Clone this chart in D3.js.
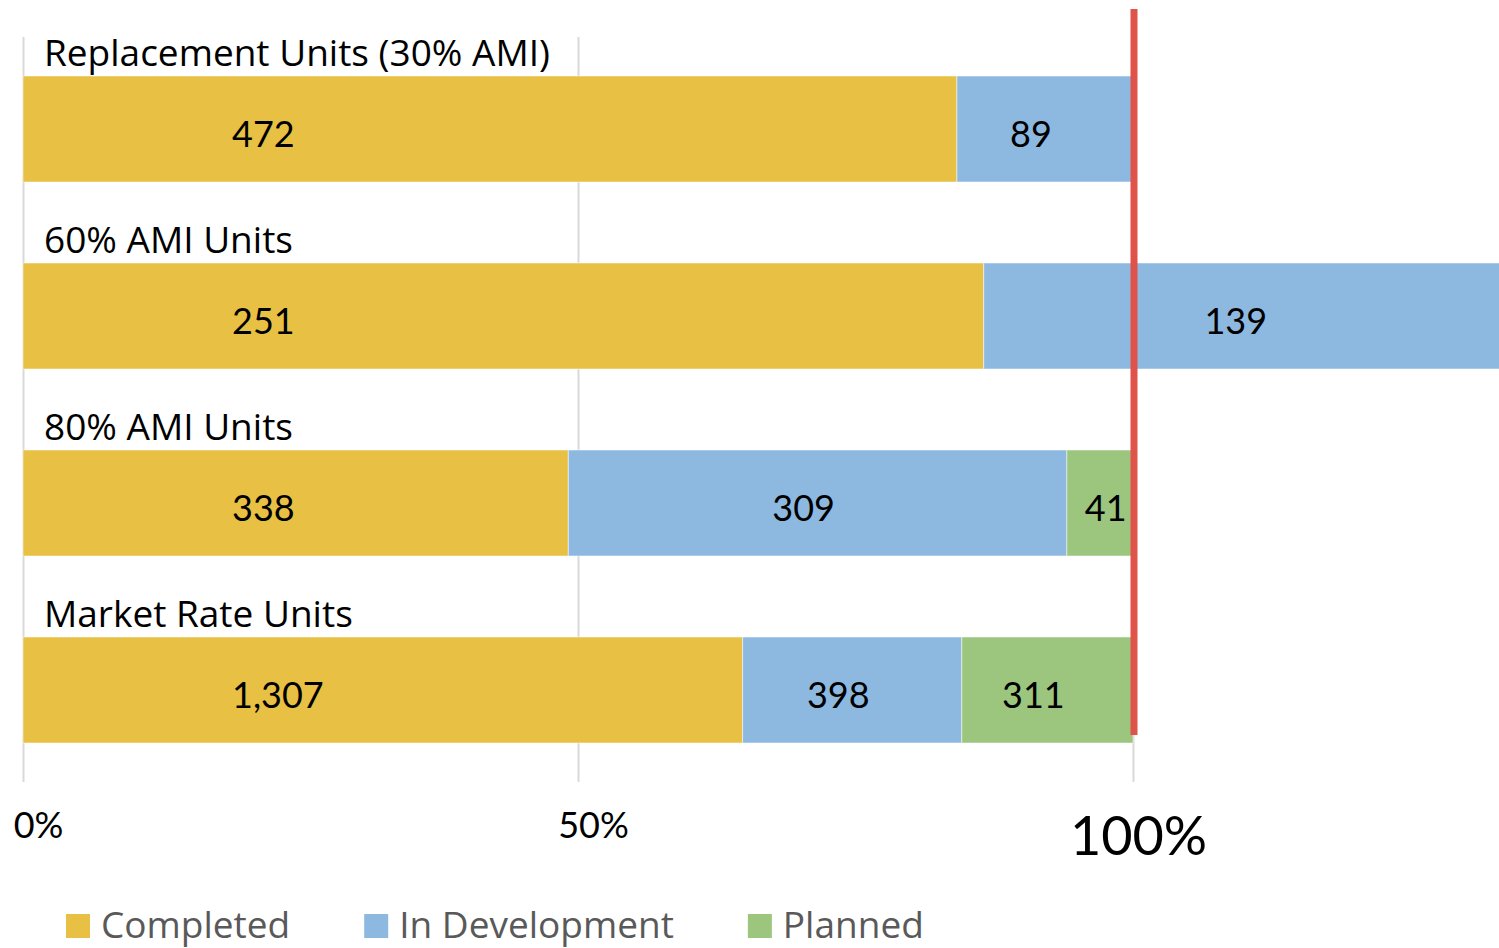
<!DOCTYPE html>
<html lang="en">
<head>
<meta charset="UTF-8">
<title>Housing units progress</title>
<style>
  body { margin: 0; background: #fff; }
  svg { display: block; font-family: Lato, "Open Sans", sans-serif; }
</style>
</head>
<body>
<svg id="chart" width="1499" height="948"></svg>
<script src="https://cdn.jsdelivr.net/npm/d3@7/dist/d3.min.js"></script>
<script>
// unit counts per category, and the goal that counts as 100%
var categories = ["Replacement Units (30% AMI)", "60% AMI Units", "80% AMI Units", "Market Rate Units"];
var series = ["Completed", "In Development", "Planned"];
var completed = [472, 251, 338, 1307];
var inDevelopment = [89, 139, 309, 398];
var planned = [0, 0, 41, 311];
var goals = [561, 290, 688, 2016];
var tickValues = [0, 0.5, 1];
var tickLabels = ["0%", "50%", "100%"];
var colors = ["#e8c044", "#8db9e1", "#9cc57e"];

var svg = d3.select("#chart");
var wordFont = "'Open Sans', sans-serif";

// build a table the stack layout can use (shares of the goal)
var rows = categories.map(function(c, i) {
  return {
    category: c,
    "Completed": completed[i] / goals[i],
    "In Development": inDevelopment[i] / goals[i],
    "Planned": planned[i] / goals[i],
    counts: [completed[i], inDevelopment[i], planned[i]]
  };
});

var x = d3.scaleLinear().domain([0, 1]).range([23, 1133]);
var y = d3.scaleBand().domain(categories).range([76, 743])
  .paddingInner(81 / 187).paddingOuter(0);

var color = d3.scaleOrdinal().domain(series).range(colors);

// gridlines + tick labels
var axis = d3.axisBottom(x)
  .tickValues(tickValues)
  .tickFormat(function(d, i) { return tickLabels[i]; })
  .tickSizeInner(-745)
  .tickSizeOuter(0);

var gAxis = svg.append("g")
  .attr("transform", "translate(0,782)")
  .call(axis);
gAxis.select(".domain").remove();
gAxis.selectAll(".tick line").attr("stroke", "#d9d9d9").attr("stroke-width", 2);
gAxis.selectAll(".tick text")
  .attr("fill", "#000")
  .attr("font-family", "Lato, sans-serif")
  .attr("font-size", 36)
  .attr("dy", 0)
  .attr("y", 56)
  .attr("x", 15)
  .filter(function(d) { return d === 1; })
  .attr("font-size", 54)
  .attr("y", 73)
  .attr("x", 5);

var stacked = d3.stack().keys(series)(rows);

var layers = svg.append("g").selectAll("g")
  .data(stacked)
  .join("g")
  .attr("fill", function(d) { return color(d.key); });

layers.selectAll("rect")
  .data(function(d) { return d.filter(function(s) { return s[1] > s[0]; }); })
  .join("rect")
  .attr("x", function(d) { return x(d[0]); })
  .attr("y", function(d) { return y(d.data.category); })
  .attr("width", function(d) { return x(d[1]) - x(d[0]); })
  .attr("height", y.bandwidth())
  .attr("stroke", "rgba(255,255,255,0.5)")
  .attr("stroke-width", 1);

// value labels (the completed ones all start at the same spot)
layers.each(function(layer, si) {
  d3.select(this).selectAll("text")
    .data(layer.filter(function(d) { return d[1] > d[0]; }))
    .join("text")
    .attr("y", function(d) { return y(d.data.category) + y.bandwidth() / 2 + 18; })
    .attr("text-anchor", si === 0 ? "start" : "middle")
    .attr("fill", "#000")
    .attr("font-size", 36)
    .text(function(d) { return d3.format(",")(d.data.counts[si]); })
    .attr("x", function(d) {
      if (si === 0) return x(0) + 209;
      var w = this.getComputedTextLength();
      // keep narrow segments' labels inside their own bar piece
      return Math.max((x(d[0]) + x(d[1])) / 2 - 14, x(d[0]) + w / 2 + 18);
    });
});

// category names above each bar
svg.append("g").selectAll("text")
  .data(categories)
  .join("text")
  .attr("x", 44)
  .attr("y", function(d) { return y(d) - 10; })
  .attr("fill", "#000")
  .attr("font-family", wordFont)
  .attr("font-size", 37)
  .text(function(d) { return d; });

// 100% goal marker
svg.append("line")
  .attr("x1", x(1) + 1).attr("x2", x(1) + 1)
  .attr("y1", 9).attr("y2", 735)
  .attr("stroke", "#e0534a")
  .attr("stroke-width", 7);

// legend
var legend = svg.append("g");
var lx = 66;
series.forEach(function(s) {
  legend.append("rect")
    .attr("x", lx).attr("y", 914)
    .attr("width", 24).attr("height", 24)
    .attr("fill", color(s));
  var t = legend.append("text")
    .attr("x", lx + 35).attr("y", 938)
    .attr("fill", "#595959")
    .attr("font-family", wordFont)
    .attr("font-size", 37)
    .text(s);
  lx += 35 + t.node().getComputedTextLength() + 74;
});
</script>
</body>
</html>
